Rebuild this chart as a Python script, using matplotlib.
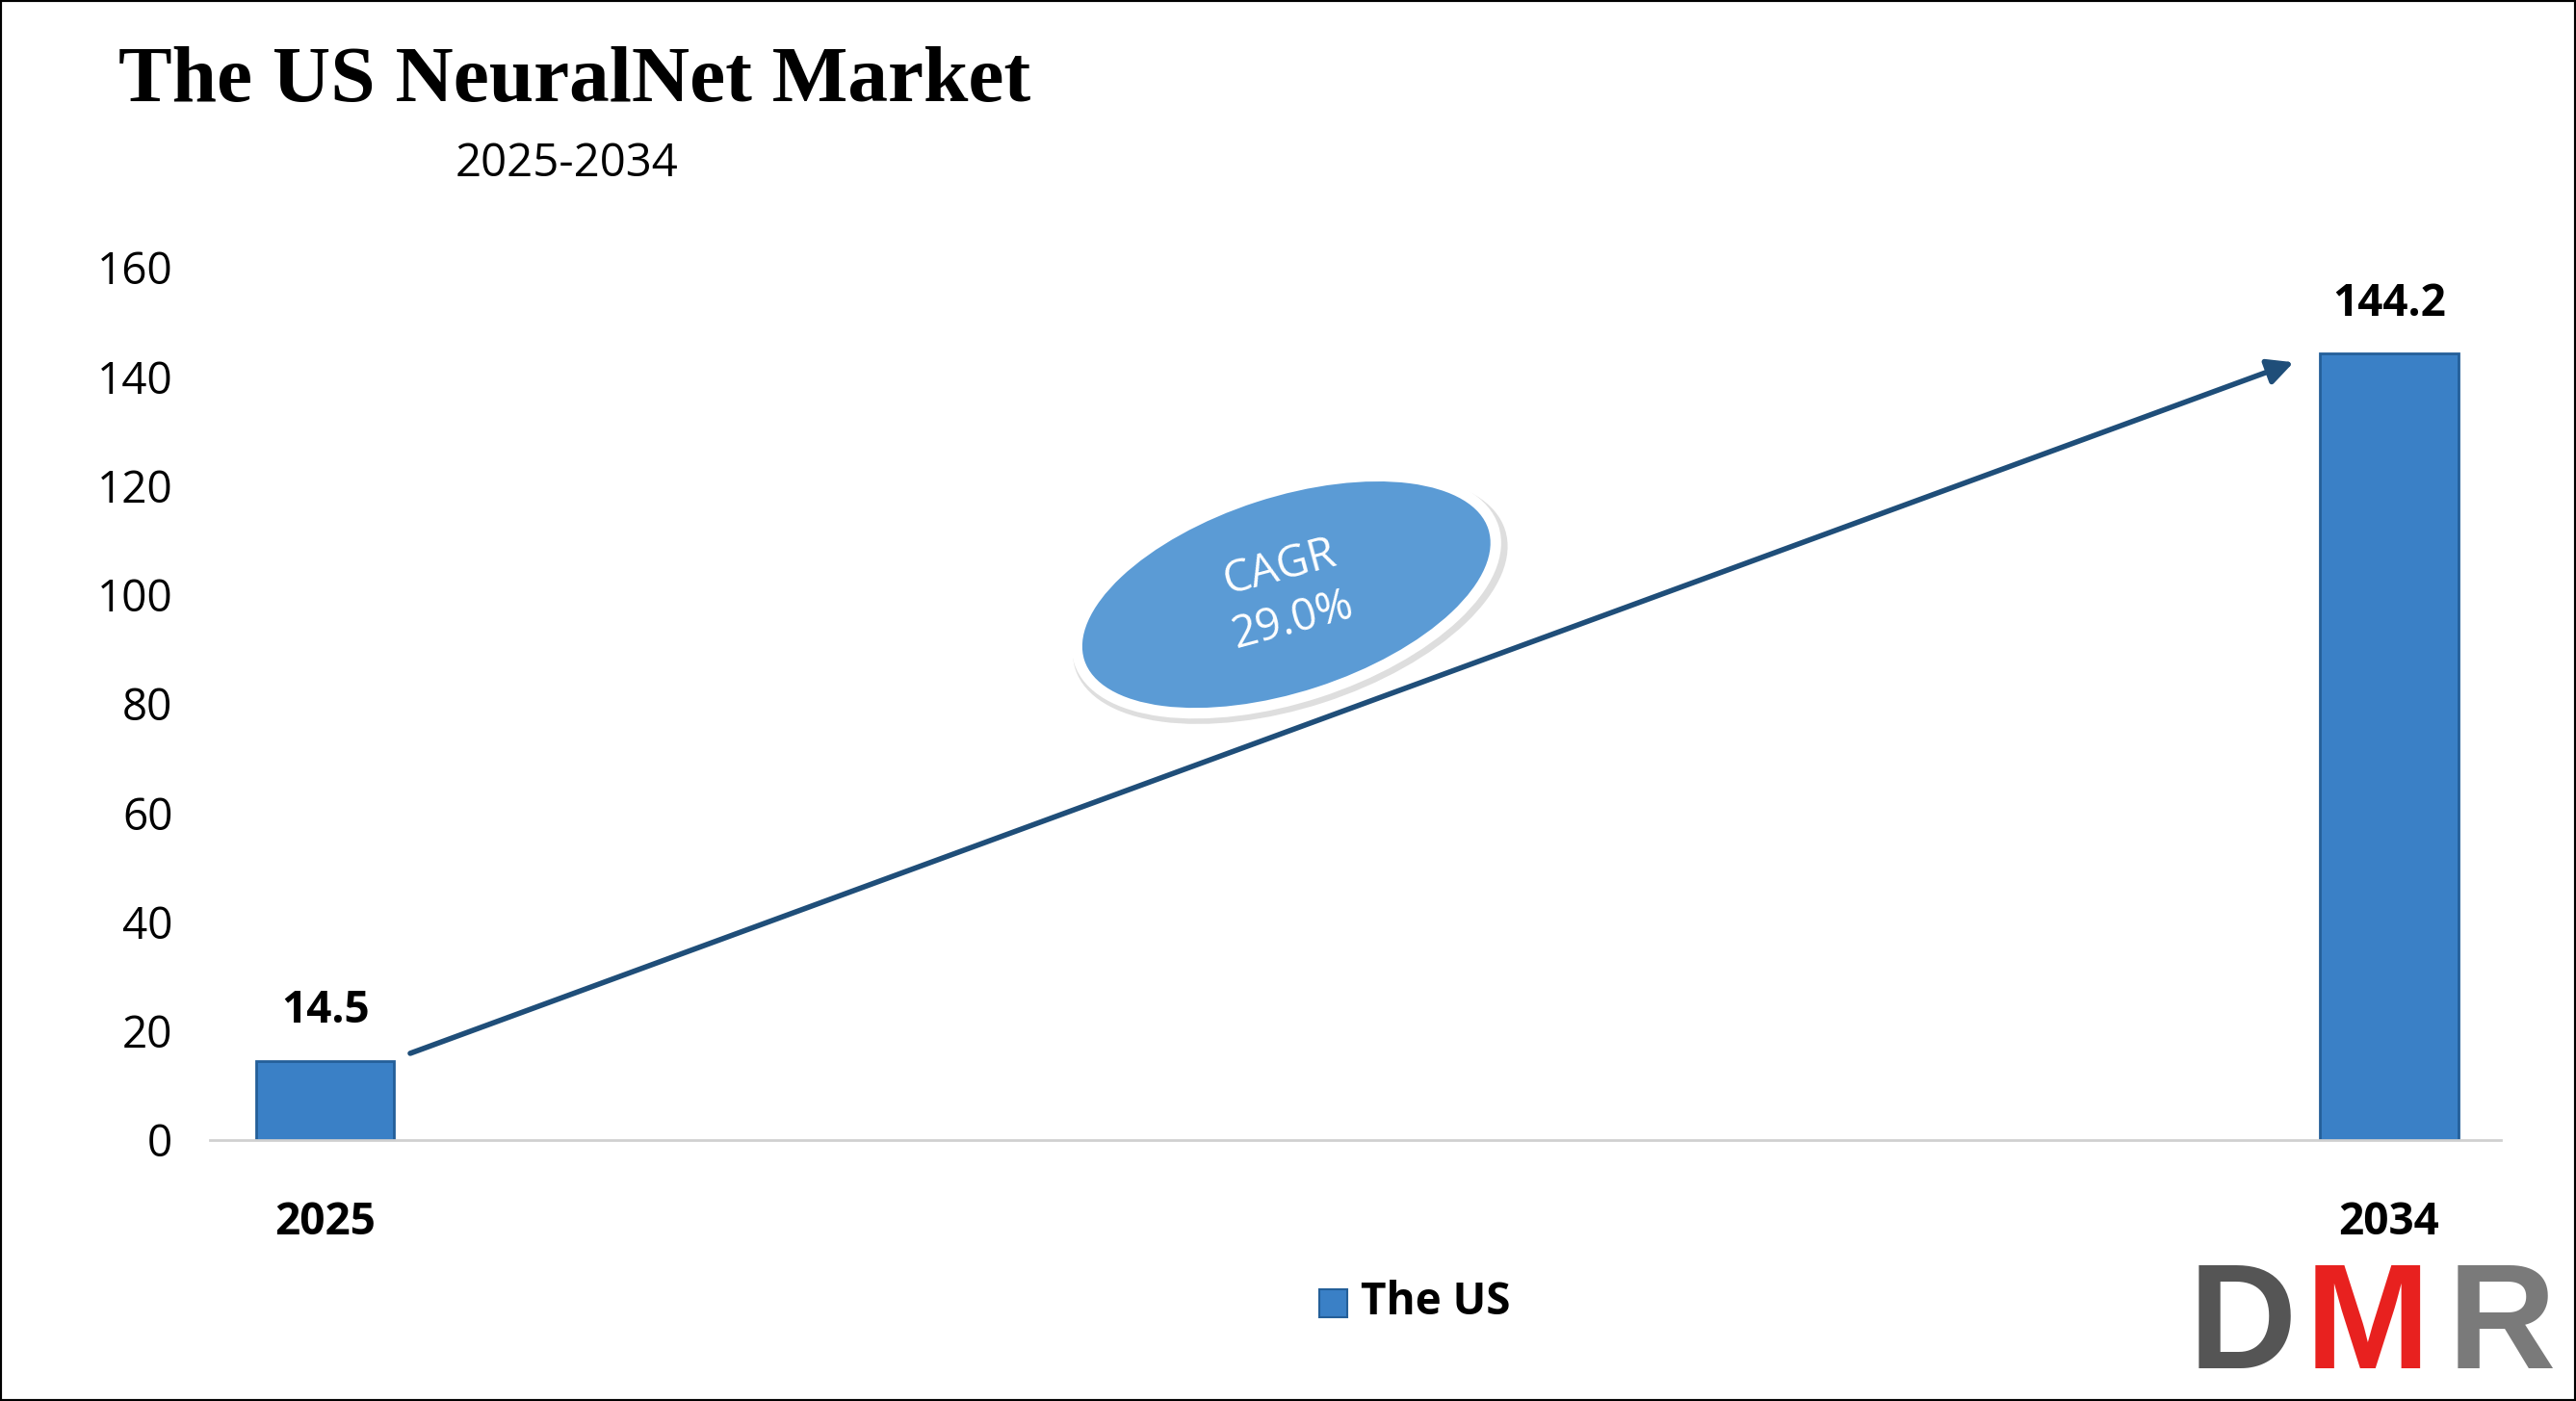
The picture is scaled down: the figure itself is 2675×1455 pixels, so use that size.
import matplotlib as mpl
mpl.use('Agg')
import matplotlib.pyplot as plt
from matplotlib.patches import Ellipse, Rectangle
from matplotlib.transforms import IdentityTransform

years = ['2025', '2034']
values = [14.5, 144.2]
cagr = '29.0%'

S = 2675 / 1568.0
H = 1455


def px(x, y):
    # reference-pixel position -> figure pixels
    return x * S, H - y * S


fig = plt.figure(figsize=(26.75, 14.55), dpi=100)
ax = fig.add_axes([0.0816, 0.1864, 0.8891, 0.6226])

xpos = [0, 1]
ax.bar(xpos, values, width=0.067, color='#3a80c6', edgecolor='#245f99', linewidth=2)
for x, v in zip(xpos, values):
    ax.text(x, v + 5, f'{v}', ha='center', va='bottom', fontsize=33,
            fontweight='bold', family='Open Sans')

ax.set_xlim(-0.0557, 1.054)
ax.set_ylim(0, 160)
ax.set_yticks(range(0, 161, 20))
ax.set_xticks(xpos)
ax.set_xticklabels(years, fontsize=33, fontweight='bold', family='Open Sans')
ax.tick_params(axis='y', labelsize=33, length=0, pad=28)
ax.tick_params(axis='x', length=0, pad=45)
for lab in ax.get_yticklabels():
    lab.set_family('Open Sans')
for s in ['top', 'right', 'left']:
    ax.spines[s].set_visible(False)
ax.spines['bottom'].set_color('#d0d0d0')
ax.spines['bottom'].set_linewidth(2)

ax.annotate('', xy=(0.955, 142.8), xytext=(0.04, 15.7),
            arrowprops=dict(arrowstyle='-|>', color='#1f4e79', lw=4,
                            mutation_scale=40))

cx, cy = px(783, 362)
fig.add_artist(Ellipse((cx + 4, cy - 5), 275 * S, 132 * S, angle=18,
                       transform=IdentityTransform(), facecolor='#c8c8c8',
                       edgecolor='none', alpha=0.6))
fig.add_artist(Ellipse((cx, cy), 265 * S, 125 * S, angle=18,
                       transform=IdentityTransform(), facecolor='#5b9bd5',
                       edgecolor='white', linewidth=8))
fig.text(cx / 2675, cy / H, 'CAGR\n' + cagr, ha='center', va='center',
         rotation=15, fontsize=33, color='white', family='Open Sans',
         linespacing=1.3)

fig.text(72 / 1568, 1 - 50 / 853, 'The US NeuralNet Market', ha='left',
         va='center', fontsize=60, fontweight='bold', family='Liberation Serif')
fig.text(345 / 1568, 1 - 100 / 853, '2025-2034', ha='center', va='center',
         fontsize=34, family='Open Sans')

# legend
fig.add_artist(Rectangle(px(803, 802), 17 * S, 17 * S, transform=IdentityTransform(),
                         facecolor='#3a80c6', edgecolor='#245f99', lw=1.5))
fig.text(828 / 1568, 1 - 793 / 853, 'The US', ha='left', va='center',
         fontsize=33, fontweight='bold', family='Open Sans')

# logo
for ch, x, c in [('D', 1332, '#555555'), ('M', 1403, '#e8211f'), ('R', 1490, '#7a7a7a')]:
    fig.text(x / 1568, 1 - 852 / 853, ch, ha='left', va='bottom', fontsize=112,
             fontweight='bold', color=c, family='Liberation Sans')

fig.add_artist(Rectangle((0, 0), 1, 1, transform=fig.transFigure, fill=False,
                         edgecolor='black', lw=3))
fig.savefig('out.png', dpi=100)
